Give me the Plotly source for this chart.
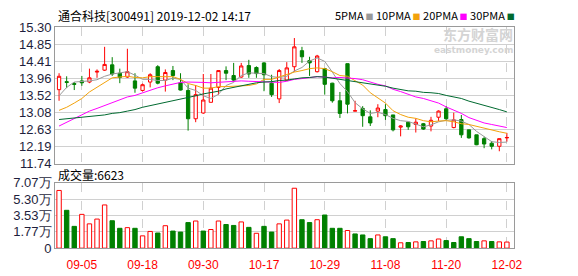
import plotly.graph_objects as go

# ---------------- data ----------------
dates = [
    "2019-09-02", "2019-09-03", "2019-09-04", "2019-09-05", "2019-09-06",
    "2019-09-09", "2019-09-10", "2019-09-11", "2019-09-12", "2019-09-16",
    "2019-09-17", "2019-09-18", "2019-09-19", "2019-09-20", "2019-09-23",
    "2019-09-24", "2019-09-25", "2019-09-26", "2019-09-27", "2019-09-30",
    "2019-10-08", "2019-10-09", "2019-10-10", "2019-10-11", "2019-10-14",
    "2019-10-15", "2019-10-16", "2019-10-17", "2019-10-18", "2019-10-21",
    "2019-10-22", "2019-10-23", "2019-10-24", "2019-10-25", "2019-10-28",
    "2019-10-29", "2019-10-30", "2019-10-31", "2019-11-01", "2019-11-04",
    "2019-11-05", "2019-11-06", "2019-11-07", "2019-11-08", "2019-11-11",
    "2019-11-12", "2019-11-13", "2019-11-14", "2019-11-15", "2019-11-18",
    "2019-11-19", "2019-11-20", "2019-11-21", "2019-11-22", "2019-11-25",
    "2019-11-26", "2019-11-27", "2019-11-28", "2019-11-29", "2019-12-02",
]

open_ = [13.67, 13.88, 13.83, 13.90, 13.87, 14.13, 14.18, 14.32, 14.10, 14.00,
         13.90, 13.65, 13.87, 14.27, 13.92, 14.17, 13.85, 13.65, 12.91, 13.06,
         13.34, 13.73, 14.17, 14.04, 14.00, 14.30, 14.25, 14.37, 13.84, 13.43,
         13.92, 14.27, 14.69, 14.43, 14.14, 14.22, 13.84, 13.38, 14.35, 13.11,
         13.18, 12.96, 13.11, 13.15, 13.01, 12.69, 12.82, 12.76, 12.78, 12.72,
         12.95, 13.17, 12.68, 12.89, 12.62, 12.49, 12.39, 12.27, 12.19, 12.41]
high = [14.10, 14.02, 13.87, 14.03, 14.22, 14.20, 14.79, 14.52, 14.22, 14.74,
        14.10, 13.83, 14.10, 14.31, 14.20, 14.29, 14.10, 13.81, 13.79, 14.08,
        14.08, 14.17, 14.28, 14.37, 14.37, 14.45, 14.28, 14.39, 14.06, 14.21,
        14.39, 15.02, 14.79, 14.53, 14.58, 14.24, 13.85, 13.61, 14.35, 13.38,
        13.24, 13.13, 13.29, 13.29, 13.01, 12.74, 12.82, 12.92, 12.80, 12.96,
        13.13, 13.24, 13.07, 13.01, 12.62, 12.49, 12.44, 12.33, 12.39, 12.54]
low = [13.38, 13.71, 13.66, 13.77, 13.84, 13.98, 14.16, 14.03, 13.84, 13.98,
       13.59, 13.62, 13.73, 13.81, 13.62, 13.92, 13.65, 12.60, 12.82, 13.04,
       13.34, 13.54, 13.92, 13.88, 13.98, 13.98, 13.98, 13.63, 13.48, 13.32,
       13.90, 14.14, 14.37, 14.03, 14.12, 13.54, 13.33, 12.93, 13.05, 13.11,
       12.70, 12.72, 12.95, 12.88, 12.58, 12.45, 12.62, 12.55, 12.62, 12.58,
       12.85, 12.88, 12.66, 12.41, 12.39, 12.22, 12.14, 12.11, 12.06, 12.31]
close = [14.02, 13.86, 13.81, 13.85, 13.98, 14.15, 14.33, 14.08, 13.99, 14.14,
         13.71, 13.80, 14.06, 13.84, 14.12, 14.04, 13.66, 12.91, 13.54, 13.40,
         13.71, 14.17, 14.10, 13.92, 14.29, 14.08, 14.09, 14.06, 13.54, 14.17,
         14.24, 14.79, 14.53, 14.37, 14.55, 13.81, 13.38, 13.05, 13.29, 13.12,
         12.99, 12.80, 13.19, 12.99, 12.62, 12.72, 12.70, 12.82, 12.64, 12.87,
         13.11, 12.91, 12.88, 12.49, 12.41, 12.23, 12.25, 12.19, 12.39, 12.42]
prev_close_first = 13.60

ma5 = [13.51, 13.73, 13.87, 13.88, 13.90, 13.93, 14.02, 14.08, 14.11, 14.14,
       14.05, 13.94, 13.94, 13.91, 13.91, 13.97, 13.94, 13.71, 13.65, 13.51,
       13.44, 13.55, 13.78, 13.86, 14.04, 14.11, 14.10, 14.09, 14.01, 13.99,
       14.02, 14.16, 14.25, 14.42, 14.50, 14.41, 14.13, 13.83, 13.62, 13.33,
       13.17, 13.05, 13.08, 13.02, 12.92, 12.86, 12.84, 12.77, 12.70, 12.75,
       12.83, 12.87, 12.88, 12.85, 12.76, 12.58, 12.45, 12.31, 12.29, 12.30]
ma10 = [13.13, 13.21, 13.32, 13.44, 13.61, 13.73, 13.87, 13.98, 14.00, 14.02,
        13.99, 13.98, 14.01, 14.01, 14.02, 14.01, 13.94, 13.83, 13.78, 13.71,
        13.71, 13.75, 13.75, 13.76, 13.77, 13.78, 13.82, 13.94, 13.94, 14.01,
        14.07, 14.13, 14.17, 14.22, 14.24, 14.22, 14.14, 14.04, 14.02, 13.91,
        13.79, 13.59, 13.46, 13.32, 13.12, 13.02, 12.95, 12.92, 12.86, 12.83,
        12.85, 12.86, 12.83, 12.78, 12.76, 12.71, 12.66, 12.60, 12.57, 12.53]
ma20 = [12.72, 12.82, 12.91, 13.01, 13.11, 13.18, 13.25, 13.33, 13.40, 13.48,
        13.52, 13.59, 13.67, 13.72, 13.77, 13.82, 13.86, 13.87, 13.87, 13.86,
        13.85, 13.86, 13.88, 13.88, 13.90, 13.89, 13.88, 13.88, 13.86, 13.86,
        13.89, 13.94, 13.96, 13.99, 14.01, 14.00, 13.98, 13.99, 13.98, 13.96,
        13.93, 13.86, 13.81, 13.77, 13.68, 13.62, 13.55, 13.48, 13.44, 13.37,
        13.32, 13.22, 13.14, 13.05, 12.94, 12.86, 12.80, 12.76, 12.72, 12.68]
ma30 = [12.89, 12.91, 12.93, 12.95, 12.97, 12.99, 13.01, 13.05, 13.07, 13.11,
        13.15, 13.21, 13.25, 13.29, 13.33, 13.38, 13.43, 13.46, 13.51, 13.56,
        13.59, 13.63, 13.69, 13.73, 13.78, 13.82, 13.85, 13.87, 13.88, 13.91,
        13.92, 13.95, 13.98, 13.99, 14.01, 14.00, 13.97, 13.94, 13.91, 13.88,
        13.85, 13.82, 13.79, 13.76, 13.71, 13.67, 13.64, 13.63, 13.60, 13.59,
        13.57, 13.52, 13.48, 13.44, 13.37, 13.31, 13.25, 13.19, 13.15, 13.09]

# volume in units of 万 (10k shares)
volume = [6.25, 4.10, 2.36, 3.66, 2.63, 3.15, 4.68, 2.97, 2.15, 2.22,
          2.15, 1.33, 1.81, 1.64, 2.43, 1.85, 1.74, 2.77, 2.94, 1.85,
          2.02, 2.94, 2.56, 2.46, 2.84, 2.25, 1.61, 2.36, 1.74, 2.63,
          3.04, 6.49, 3.08, 2.77, 3.08, 3.59, 2.15, 2.15, 1.91, 1.54,
          1.43, 1.03, 1.43, 1.23, 1.03, 0.58, 0.61, 0.68, 0.72, 0.79,
          0.99, 0.82, 0.61, 1.23, 1.03, 0.72, 0.79, 0.72, 0.68, 0.66]

price_ticks = [11.74, 12.19, 12.63, 13.08, 13.52, 13.96, 14.41, 14.85, 15.30]
vol_ticks = [0, 1.77, 3.53, 5.30, 7.07]
vol_tick_labels = ["0", "1.77万", "3.53万", "5.30万", "7.07万"]
date_ticks = ["2019-09-05", "2019-09-18", "2019-09-30", "2019-10-17",
              "2019-10-29", "2019-11-08", "2019-11-20", "2019-12-02"]
date_tick_labels = ["09-05", "09-18", "09-30", "10-17", "10-29", "11-08", "11-20", "12-02"]

title_text = "通合科技[300491] 2019-12-02 14:17"
vol_title = "成交量:6623"
ma_names = ["5PMA", "10PMA", "20PMA", "30PMA"]

# ---------------- styling ----------------
W, H = 578, 276
RED = "#ff0000"
GREEN = "#008000"
MA_COLORS = ["#999999", "#f2a20c", "#ff00ff", "#006a30"]
GRID = "#d0d0d0"
BORDER = "#9a9a9a"
LABEL = "#1e1e3c"


def px(x):
    return x / W


def py(y):
    return 1 - y / H


prev = [prev_close_first] + close[:-1]
vol_up = [c >= p for c, p in zip(close, prev)]

fig = go.Figure()
fig.add_trace(go.Candlestick(
    x=dates, open=open_, high=high, low=low, close=close,
    increasing=dict(line=dict(color=RED, width=1), fillcolor="#ffffff"),
    decreasing=dict(line=dict(color=GREEN, width=1), fillcolor=GREEN),
    whiskerwidth=0, hoverinfo="skip", showlegend=False,
    xaxis="x", yaxis="y"))

for vals, col in zip([ma5, ma10, ma20, ma30], MA_COLORS):
    fig.add_trace(go.Scatter(x=dates, y=vals, mode="lines",
                             line=dict(color=col, width=1),
                             hoverinfo="skip", showlegend=False,
                             xaxis="x", yaxis="y"))

fig.add_trace(go.Bar(
    x=dates, y=volume, width=0.58,
    marker=dict(color=["#ffffff" if u else GREEN for u in vol_up],
                line=dict(color=[RED if u else GREEN for u in vol_up], width=1)),
    hoverinfo="skip", showlegend=False, xaxis="x2", yaxis="y2"))

xr = [-0.52, 59.92]
common_x = dict(type="category", range=xr, tickvals=date_ticks,
                showgrid=True, gridcolor=GRID, griddash="dash", gridwidth=1,
                showline=True, mirror=True, linecolor=BORDER, linewidth=1,
                ticks="", fixedrange=True)
common_y = dict(showgrid=True, gridcolor=GRID, gridwidth=1, zeroline=False,
                showline=True, mirror=True, linecolor=BORDER, linewidth=1,
                ticks="", fixedrange=True,
                tickfont=dict(family="Liberation Sans, Arial", size=13, color=LABEL))

fig.update_layout(
    width=W, height=H, margin=dict(l=0, r=0, t=0, b=0),
    paper_bgcolor="white", plot_bgcolor="white",
    showlegend=False, hovermode=False, boxgap=0.38,
    xaxis=dict(common_x, domain=[px(56), px(522)], anchor="y",
               showticklabels=False, rangeslider=dict(visible=False)),
    yaxis=dict(common_y, domain=[py(165.5), py(21.5)], range=[11.74, 15.30],
               tickvals=price_ticks, ticktext=[f"{v:.2f}" for v in price_ticks]),
    xaxis2=dict(common_x, domain=[px(56), px(522)], anchor="y2",
                ticktext=date_tick_labels, ticklabelstandoff=5,
                tickfont=dict(family="Liberation Sans, Arial", size=12, color=RED)),
    yaxis2=dict(common_y, domain=[py(255), py(186)], range=[0, 7.07],
                tickvals=vol_ticks, ticktext=vol_tick_labels),
)

CJK = "Noto Sans CJK SC"
legend_html = " ".join(
    "%s<span style='color:%s;font-size:8px'> ■</span>" % (n, c)
    for n, c in zip(ma_names, MA_COLORS))
ann = [
    dict(text=title_text, x=px(57), y=py(8.5), xanchor="left", yanchor="middle",
         font=dict(family=CJK, size=12, color="#000")),
    dict(text=legend_html, x=px(338), y=py(8.5), xanchor="left", yanchor="middle",
         font=dict(family=CJK, size=11, color="#000")),
    dict(text=vol_title, x=px(57), y=py(177), xanchor="left", yanchor="middle",
         font=dict(family=CJK, size=12, color="#000")),
    dict(text="<b>东方财富网</b>", x=px(523), y=py(28.5), xanchor="right", yanchor="middle",
         font=dict(family=CJK, size=14, color="#d4d4d4")),
    dict(text="<b>eastmoney.com</b>", x=px(523), y=py(46), xanchor="right", yanchor="middle",
         font=dict(family="DejaVu Sans", size=9, color="#d4d4d4")),
]
for a in ann:
    a.update(xref="paper", yref="paper", showarrow=False)
fig.update_layout(annotations=ann)

fig.write_html("out.html")
